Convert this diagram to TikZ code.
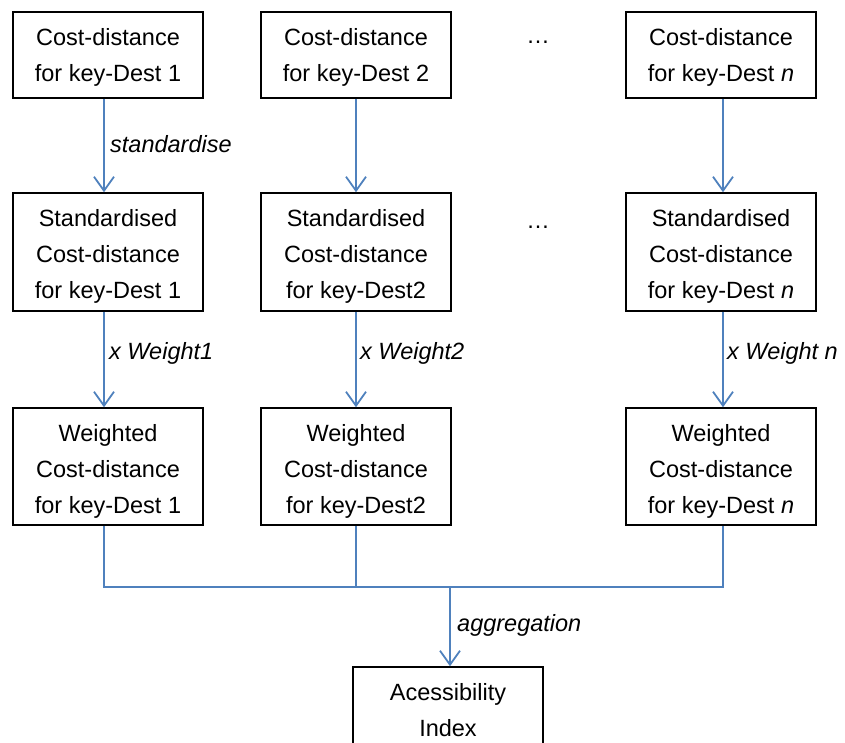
\documentclass[tikz,border=0pt]{standalone}
\usepackage{fontspec}
\setmainfont{Liberation Sans}
\usetikzlibrary{arrows.meta}
\definecolor{linkblue}{RGB}{79,129,189}
\newcommand\topstrut[1]{\rule{0pt}{#1}}
\begin{document}
\begin{tikzpicture}[x=1pt,y=-1pt,
  box/.style={draw=black,line width=1.5pt,minimum width=190pt,inner sep=0pt,align=center,font=\fontsize{23.5}{36}\selectfont},
  link/.style={draw=linkblue,line width=1.8pt,-{Straight Barb[length=14pt,width=20pt,line width=1.8pt]}},
  conn/.style={draw=linkblue,line width=1.5pt},
  lab/.style={font=\fontsize{23.5}{36}\selectfont\itshape,anchor=west,inner sep=0pt},
  dots/.style={font=\fontsize{23.5}{36}\selectfont,inner sep=0pt}]
\useasboundingbox (0,0) rectangle (845,742);
% row 1
\node[box,minimum height=86pt] (c1) at (108,55) {\topstrut{21pt}Cost-distance\\for key-Dest 1};
\node[box,minimum height=86pt] (c2) at (356,55) {\topstrut{21pt}Cost-distance\\for key-Dest 2};
\node[box,minimum height=86pt] (c3) at (721,55) {\topstrut{21pt}Cost-distance\\for key-Dest \textit{n}};
% row 2
\node[box,minimum height=118pt] (s1) at (108,252) {\topstrut{26pt}Standardised\\Cost-distance\\for key-Dest 1};
\node[box,minimum height=118pt] (s2) at (356,252) {\topstrut{26pt}Standardised\\Cost-distance\\for key-Dest2};
\node[box,minimum height=118pt] (s3) at (721,252) {\topstrut{26pt}Standardised\\Cost-distance\\for key-Dest \textit{n}};
% row 3
\node[box,minimum height=117pt] (w1) at (108,466.5) {\topstrut{26pt}Weighted\\Cost-distance\\for key-Dest 1};
\node[box,minimum height=117pt] (w2) at (356,466.5) {\topstrut{26pt}Weighted\\Cost-distance\\for key-Dest2};
\node[box,minimum height=117pt] (w3) at (721,466.5) {\topstrut{26pt}Weighted\\Cost-distance\\for key-Dest \textit{n}};
% result
\node[box,minimum height=86pt] (acc) at (448,710) {Acessibility\\Index};
% dots
\node[dots] (d1) at (538,42) {\dots};
\node[dots] (d2) at (538,227) {\dots};
% arrows
\draw[link] ([xshift=-4pt]c1.south) -- ([xshift=-4pt]s1.north);
\draw[link] (c2.south) -- (s2.north);
\draw[link] ([xshift=2pt]c3.south) -- ([xshift=2pt]s3.north);
\draw[link] ([xshift=-4pt]s1.south) -- ([xshift=-4pt]w1.north);
\draw[link] (s2.south) -- (w2.north);
\draw[link] ([xshift=2pt]s3.south) -- ([xshift=2pt]w3.north);
% labels
\node[lab] (l1) at (110,144) {standardise};
\node[lab] (l2) at (109,353) {x Weight1};
\node[lab] (l3) at (360,353) {x Weight2};
\node[lab] (l4) at (727,353) {x Weight n};
\node[lab] (l5) at (457,625) {aggregation};
% aggregation
\coordinate (j1) at (104,587);
\coordinate (j2) at (356,587);
\coordinate (j3) at (723,587);
\coordinate (ja) at (450,587);
\draw[conn] ([xshift=-4pt]w1.south) -- (j1) -- (j3) -- ([xshift=2pt]w3.south);
\draw[conn] (w2.south) -- (j2);
\draw[link] (ja) -- ([xshift=2pt]acc.north);
\end{tikzpicture}
\end{document}
